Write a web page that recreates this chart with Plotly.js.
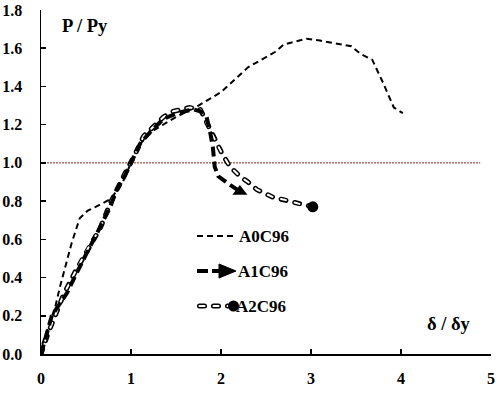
<!DOCTYPE html>
<html><head><meta charset="utf-8">
<script src="https://cdn.plot.ly/plotly-3.0.1.min.js"></script>
<style>html,body{margin:0;padding:0;background:#fff}#chart{width:500px;height:395px}</style>
</head><body><div id="chart"></div>
<script>
// A0C96 (thin dashed)
const a0x = [0,0.02,0.08,0.16,0.21,0.27,0.34,0.43,0.52,0.65,0.77,0.9,1.0,1.1,1.25,1.5,1.75,2.0,2.3,2.6,2.7,2.95,3.1,3.45,3.55,3.68,3.8,3.92,4.02];
const a0y = [0,0.06,0.14,0.25,0.35,0.46,0.58,0.71,0.75,0.78,0.81,0.89,1.0,1.1,1.17,1.24,1.30,1.37,1.50,1.58,1.62,1.65,1.64,1.61,1.57,1.54,1.42,1.29,1.26];
// A1C96 (thick dashed, arrow end)
const a1x = [0,0.05,0.12,0.19,0.29,0.34,0.43,0.51,0.62,0.69,0.77,0.84,0.93,1.02,1.1,1.21,1.36,1.51,1.69,1.77,1.84,1.88,1.91,1.93,1.97,2.07,2.21];
const a1y = [0,0.08,0.2,0.25,0.32,0.37,0.46,0.53,0.63,0.70,0.77,0.86,0.93,1.02,1.1,1.16,1.23,1.26,1.28,1.27,1.24,1.16,1.08,0.98,0.93,0.895,0.85];
// A2C96 (open dashed, circle end)
const a2x = [0,0.03,0.08,0.14,0.25,0.38,0.45,0.53,0.66,0.77,0.86,0.95,1.04,1.14,1.25,1.36,1.47,1.65,1.77,1.88,2.01,2.1,2.21,2.3,2.4,2.58,2.77,2.91,3.02];
const a2y = [0,0.05,0.11,0.18,0.31,0.43,0.49,0.56,0.66,0.79,0.88,0.96,1.04,1.14,1.19,1.24,1.27,1.29,1.28,1.17,1.05,0.98,0.93,0.90,0.86,0.82,0.80,0.78,0.77];
// reference line P/Py = 1
const refX = [0,4.88];
const refY = [1,1];
const xTicks = [0,1,2,3,4,5];
const yTicks = [0,0.2,0.4,0.6,0.8,1.0,1.2,1.4,1.6,1.8];
const names = ['A0C96','A1C96','A2C96'];

const last = a => a[a.length-1];
const F = 'Liberation Serif, Times New Roman, serif';

const traces = [
  {x:refX,y:refY,mode:'lines',line:{color:'#8B2323',width:1,dash:'2px,1px'},hoverinfo:'skip'},
  {x:a0x,y:a0y,mode:'lines',line:{color:'#000',width:2,dash:'6px,4px'}},
  {x:a2x,y:a2y,mode:'lines',line:{color:'#000',width:5,dash:'5px,9px'}},
  {x:a2x,y:a2y,mode:'lines',line:{color:'#fff',width:2,dash:'5px,9px'}},
  {x:a1x,y:a1y,mode:'lines',line:{color:'#000',width:4,dash:'10px,5px'}},
  {x:[last(a1x)],y:[last(a1y)],mode:'markers',marker:{symbol:'triangle-up',size:13,color:'#000'}},
  {x:[last(a2x)],y:[last(a2y)],mode:'markers',marker:{symbol:'circle',size:11,color:'#000'}}
];

const px = p => (p-41)/450, py = p => (354-p)/344;
const shapes = [
  {type:'line',xref:'paper',yref:'paper',x0:px(197),x1:px(233),y0:py(236),y1:py(236),line:{color:'#000',width:2,dash:'6px,4px'}},
  {type:'line',xref:'paper',yref:'paper',x0:px(197),x1:px(221),y0:py(271),y1:py(271),line:{color:'#000',width:4,dash:'11px,4px'}},
  {type:'path',xref:'paper',yref:'paper',path:`M ${px(219)},${py(264)} L ${px(236)},${py(271)} L ${px(219)},${py(278)} Z`,fillcolor:'#000',line:{color:'#000',width:1}},
  {type:'line',xref:'paper',yref:'paper',x0:px(199.5),x1:px(228),y0:py(306),y1:py(306),line:{color:'#000',width:5,dash:'5px,9px'}},
  {type:'line',xref:'paper',yref:'paper',x0:px(199.5),x1:px(228),y0:py(306),y1:py(306),line:{color:'#fff',width:2,dash:'5px,9px'}},
  {type:'circle',xref:'paper',yref:'paper',x0:px(228),x1:px(239),y0:py(300.5),y1:py(311.5),fillcolor:'#000',line:{color:'#000',width:0}}
];
const LF = {family:F,size:17,color:'#000',weight:'bold'};
const TF = {family:F,size:18.5,color:'#000',weight:'bold'};
const ann = [
  {xref:'paper',yref:'paper',x:px(237),y:py(236),xanchor:'left',yanchor:'middle',text:names[0],showarrow:false,font:LF},
  {xref:'paper',yref:'paper',x:px(236),y:py(271),xanchor:'left',yanchor:'middle',text:names[1],showarrow:false,font:LF},
  {xref:'paper',yref:'paper',x:px(234),y:py(306),xanchor:'left',yanchor:'middle',text:names[2],showarrow:false,font:LF},
  {xref:'paper',yref:'paper',x:px(60),y:py(26),xanchor:'left',yanchor:'middle',text:'P / Py',showarrow:false,font:TF},
  {xref:'paper',yref:'paper',x:px(425),y:py(324),xanchor:'left',yanchor:'middle',text:'δ / δy',showarrow:false,font:TF}
];

const TK = {family:F,size:16,color:'#000',weight:'bold'};
const layout = {
  width:500,height:395,
  margin:{l:41,r:9,t:10,b:41,pad:0},
  paper_bgcolor:'#fff',plot_bgcolor:'#fff',
  showlegend:false,
  font:{family:F,color:'#000'},
  xaxis:{range:[0,5],tickvals:xTicks,ticktext:xTicks.map(String),showgrid:false,zeroline:false,
    showline:true,linecolor:'#000',linewidth:1.5,ticks:'inside',ticklen:5,tickcolor:'#000',tickwidth:1.5,
    ticklabelstandoff:9,tickfont:TK,fixedrange:true},
  yaxis:{range:[0,1.8],tickvals:yTicks,ticktext:yTicks.map(v=>v.toFixed(1)),showgrid:false,zeroline:false,
    showline:true,linecolor:'#000',linewidth:1.5,ticks:'inside',ticklen:5,tickcolor:'#000',tickwidth:1.5,
    ticklabelstandoff:14,tickfont:TK,fixedrange:true},
  shapes:shapes,annotations:ann
};
Plotly.newPlot('chart',traces,layout,{staticPlot:true}).then(gd => {
  // round line caps for the open-dash (A2C96) strokes so each dash is closed
  const tr = gd.querySelectorAll('.scatterlayer .trace');
  [2,3].forEach(i => tr[i].querySelectorAll('path.js-line').forEach(p => p.style.strokeLinecap = 'round'));
  const sh = gd.querySelectorAll('.shapelayer path');
  [3,4].forEach(i => { if (sh[i]) sh[i].style.strokeLinecap = 'round'; });
});
</script></body></html>
